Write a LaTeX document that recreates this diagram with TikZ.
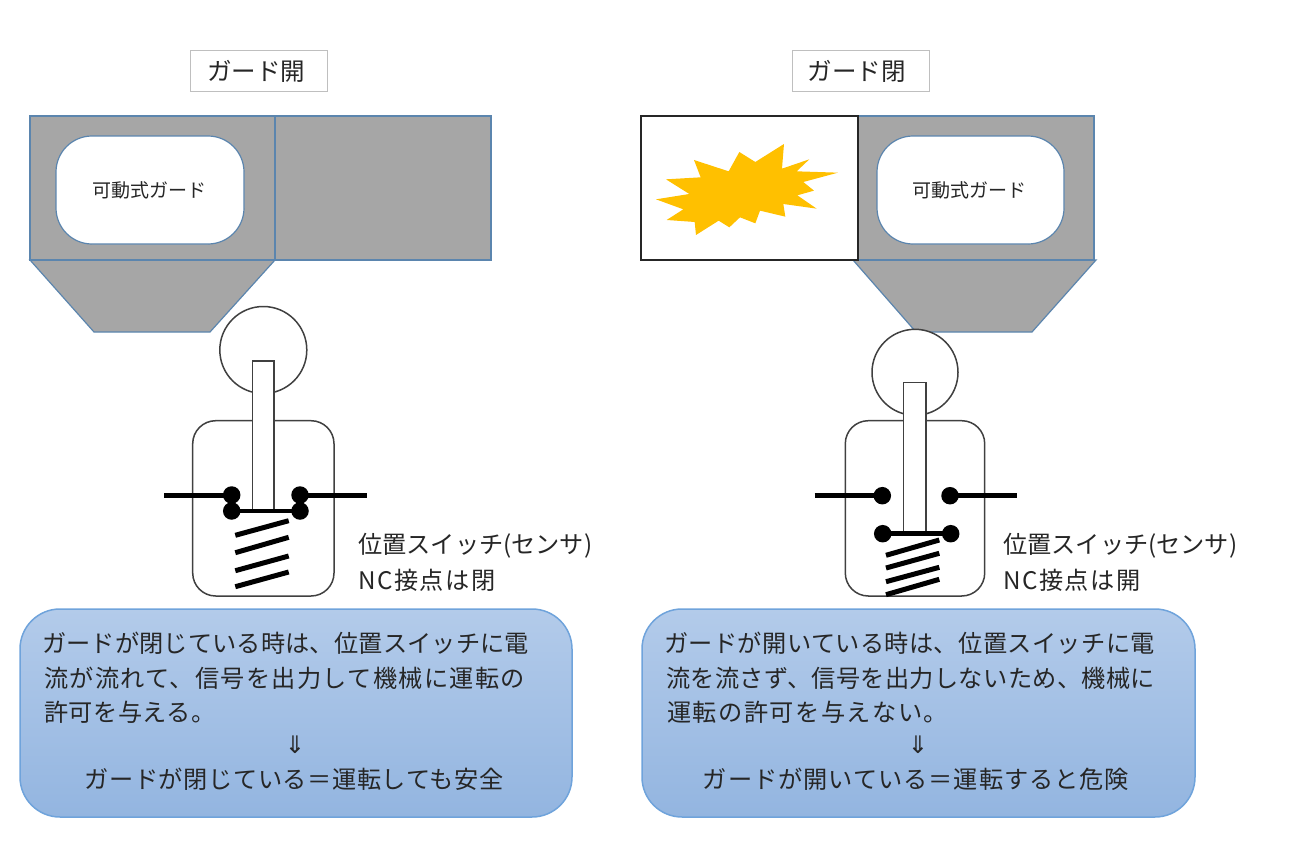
\documentclass[tikz,border=0pt]{standalone}
\usepackage{fontspec}
\setmainfont{Noto Sans CJK JP}
\newfontfamily\arrowfont{DejaVu Sans}
\newcommand{\spc}[1]{\addfontfeature{LetterSpace=#1}}
\definecolor{guardgrey}{HTML}{A6A6A6}
\definecolor{guardline}{HTML}{5B85AE}
\definecolor{panelline}{HTML}{6FA3DB}
\definecolor{paneltop}{HTML}{B3CBEA}
\definecolor{panelbot}{HTML}{93B5E0}
\definecolor{burst}{HTML}{FFC000}
\definecolor{inkgrey}{HTML}{404040}
\tikzset{
  guard/.style={fill=guardgrey,draw=guardline,line width=1.2pt},
  window/.style={fill=white,draw=guardline,line width=1.2pt,rounded corners=36pt},
  shell/.style={fill=white,draw=inkgrey,line width=1.5pt},
  wire/.style={draw=black,line width=4.6pt},
  coil/.style={draw=black,line width=5pt},
  contact/.style={circle,fill=black,inner sep=0pt,minimum size=17.5pt},
  titlebox/.style={draw=black!25,line width=1pt,fill=white,minimum width=137pt,minimum height=41pt,inner sep=0pt,font=\fontsize{24.5}{24.5}\selectfont,text=black!85},
  small/.style={font=\fontsize{19}{19}\selectfont,text=black!85,inner sep=0pt},
  body/.style={anchor=west,font=\fontsize{24.2}{24.2}\selectfont,text=black!85,inner sep=0pt},
  bodyc/.style={font=\fontsize{24.2}{24.2}\selectfont,text=black!85,inner sep=0pt},
  panel/.style={draw=panelline,line width=1.5pt,rounded corners=40pt,top color=paneltop,bottom color=panelbot},
}
\begin{document}
\begin{tikzpicture}[x=1pt,y=-1pt]
\useasboundingbox (0,0) rectangle (1300,856);
% titles
\node[titlebox] (t1) at (258.5,71.5) {\hspace*{-5pt}ガード開};
\node[titlebox] (t2) at (860.5,71.5) {\hspace*{-8pt}ガード閉};
% left guard
\draw[guard] (30,260) -- (275,260) -- (210,332) -- (94,332) -- cycle;
\draw[guard] (30,116) rectangle (275,260);
\draw[guard] (275,116) rectangle (491,260);
\draw[window] (56,136) rectangle (244,244);
\node[small] (g1) at (149,190) {可動式ガード};
% right guard
\draw[guard] (853,260) -- (1096,260) -- (1032,332) -- (916,332) -- cycle;
\draw[guard] (858,116) rectangle (1094,260);
\draw[fill=white,draw=black!85,line width=1.2pt] (641,116) rectangle (858,260);
\draw[window] (877,136) rectangle (1064,244);
\node[small] (g2) at (969,190) {可動式ガード};
\begin{scope}[shift={(630,100)},x=0.3333pt,y=-0.3333pt]
\fill[burst] (78,298)--(178,282)--(108,238)--(212,232)--(192,180)--(296,214)--(328,156)--(376,186)--(462,132)--(456,206)--(538,178)--(500,214)--(624,218)--(520,246)--(552,272)--(502,286)--(560,326)--(460,312)--(466,350)--(390,332)--(376,370)--(330,352)--(298,382)--(266,362)--(198,405)--(194,366)--(110,360)--(160,328)--cycle;
\end{scope}
% left switch
\draw[shell] (263.3,350) circle (43.5);
\draw[shell,rounded corners=23pt] (192.7,420.7) rectangle (334,596);
\draw[wire] (164,495.3) -- (231.7,495.3);
\draw[wire] (300,495.3) -- (366.7,495.3);
\node[contact] (la) at (231.7,495) {};
\node[contact] (lb) at (300,495) {};
\node[contact] (lc) at (231.7,511) {};
\node[contact] (ld) at (300,511) {};
\draw[shell] (252.7,361) rectangle (274,510.7);
\draw[wire] (lc.center) -- (ld.center);
\draw[coil] (235.3,535.3) -- (288.7,520.7);
\draw[coil] (235.3,552.7) -- (288.7,537.3);
\draw[coil] (235.3,570.7) -- (288.7,556);
\draw[coil] (235.3,586.7) -- (288.7,572);
% right switch
\draw[shell] (915,372.3) circle (43);
\draw[shell,rounded corners=23pt] (845.3,420.7) rectangle (984.7,596);
\draw[wire] (814.7,495.7) -- (882,495.7);
\draw[wire] (950,495.7) -- (1017.3,495.7);
\node[contact] (ra) at (882.3,495.7) {};
\node[contact] (rb) at (950,495.7) {};
\node[contact] (rc) at (882.7,533.7) {};
\node[contact] (rd) at (950.7,533.7) {};
\draw[shell] (903.3,382.3) rectangle (926,532);
\draw[wire] (rc.center) -- (rd.center);
\draw[coil] (886,555.3) -- (939.3,540);
\draw[coil] (886,568) -- (939.3,553.3);
\draw[coil] (886,581.7) -- (939.3,567.3);
\draw[coil] (886,594.7) -- (939.3,579.3);
% switch captions
\node[body] (c1) at (358,546) {位置スイッチ(センサ)};
\node[body] (c2) at (358,580) {\spc{6}NC接点は閉};
\node[body] (c3) at (1003,546) {位置スイッチ(センサ)};
\node[body] (c4) at (1003,580) {\spc{6}NC接点は開};
% panels
\draw[panel] (20,609) rectangle (572,817);
\draw[panel] (642,609) rectangle (1195,817);
\node[body] (p1) at (42,643) {\spc{0.6}ガードが閉じている時は、位置スイッチに電};
\node[body] (p2) at (44,678) {\spc{5.4}流が流れて、信号を出力して機械に運転の};
\node[body] (p3) at (44,712) {\spc{1.8}許可を与える。};
\node[bodyc] (p4) at (295,745) {\arrowfont ⇓};
\node[bodyc] (p5) at (294,779) {\spc{2.4}ガードが閉じている＝運転しても安全};
\node[body] (q1) at (664,643) {\spc{1.6}ガードが開いている時は、位置スイッチに電};
\node[body] (q2) at (666,678) {\spc{1.4}流を流さず、信号を出力しないため、機械に};
\node[body] (q3) at (667,712) {\spc{6}運転の許可を与えない。};
\node[bodyc] (q4) at (918,745) {\arrowfont ⇓};
\node[bodyc] (q5) at (916,779) {\spc{4}ガードが開いている＝運転すると危険};
\end{tikzpicture}
\end{document}
